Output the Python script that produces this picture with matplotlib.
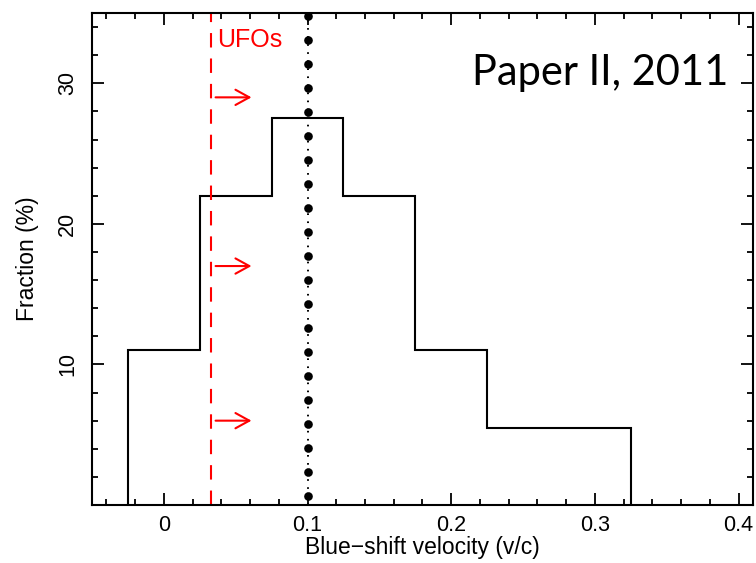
import numpy as np
import matplotlib
matplotlib.use('Agg')
import matplotlib.pyplot as plt
from matplotlib.ticker import MultipleLocator

plt.rcParams['font.family'] = ['Liberation Sans', 'DejaVu Sans']
plt.rcParams['lines.scale_dashes'] = False

# velocity distribution of the outflows (fraction per bin)
bin_edges = [-0.025, 0.025, 0.075, 0.125, 0.175, 0.225, 0.325]
fractions = [11.0, 22.0, 27.5, 22.0, 11.0, 5.5]

ufo_limit = 0.033      # threshold velocity for UFOs
mean_velocity = 0.1    # dotted reference line
arrow_y = [29, 17, 6]
arrow_x0, arrow_x1 = 0.036, 0.061

fig = plt.figure(figsize=(7.56, 5.63), dpi=100)
ax = fig.add_axes([0.1217, 0.1030, 0.8743, 0.8739])

ax.stairs(fractions, bin_edges, baseline=0, color='black', lw=1.5)

# red dashed threshold
ax.plot([ufo_limit, ufo_limit], [0, 35], color='red', lw=1.5,
        linestyle=(0, (10.4, 7.9)))

# dotted line with big dots at v = 0.1
ax.plot([mean_velocity, mean_velocity], [0, 35], color='black', lw=1.4,
        linestyle=(0, (1.2, 4.6)))
ax.plot([mean_velocity, mean_velocity], [0, 35], color='black', lw=6.3,
        linestyle=(10.8, (0.01, 17.27)), dash_capstyle='round')

for y in arrow_y:
    ax.annotate('', xy=(arrow_x1, y), xytext=(arrow_x0, y),
                arrowprops=dict(arrowstyle='->,head_length=1.0,head_width=0.55',
                                color='red', lw=1.5, shrinkA=0, shrinkB=0))

ax.text(0.189, 0.931, 'UFOs', transform=ax.transAxes, color='red',
        fontsize=18, va='baseline', ha='left')
ax.text(0.575, 0.854, 'Paper II, 2011', transform=ax.transAxes,
        fontsize=30, va='baseline', ha='left', family=['Lato', 'DejaVu Sans'])

ax.set_xlim(-0.05, 0.41)
ax.set_ylim(0, 35)
ax.xaxis.set_major_locator(MultipleLocator(0.1))
ax.xaxis.set_minor_locator(MultipleLocator(0.02))
ax.yaxis.set_major_locator(MultipleLocator(10))
ax.yaxis.set_minor_locator(MultipleLocator(2))
ax.set_xticks([0, 0.1, 0.2, 0.3, 0.4])
ax.set_xticklabels(['0', '0.1', '0.2', '0.3', '0.4'])
ax.set_yticks([10, 20, 30])
ax.tick_params(which='both', direction='in', top=True, right=True, width=1.3)
ax.tick_params(which='major', length=8.5)
ax.tick_params(which='minor', length=4.5)
ax.tick_params(axis='x', labelsize=15.5, pad=7)
ax.tick_params(axis='y', labelsize=15.5, pad=10)
for lab in ax.get_yticklabels():
    lab.set_rotation(90)
    lab.set_va('center')
for s in ax.spines.values():
    s.set_linewidth(1.5)

ax.set_xlabel('Blue\u2212shift velocity (v/c)', fontsize=16.5, labelpad=0.5)
ax.set_ylabel('Fraction (%)', fontsize=16.5, labelpad=13)

fig.savefig('out.png', dpi=100)
